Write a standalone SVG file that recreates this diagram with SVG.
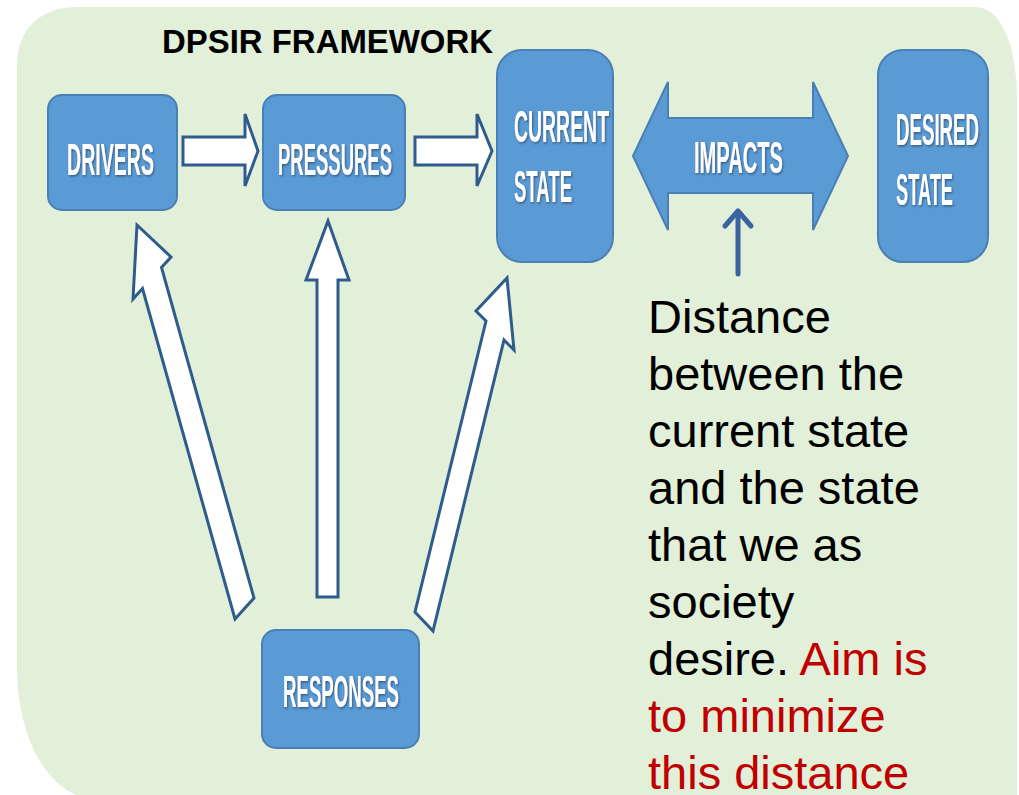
<svg xmlns="http://www.w3.org/2000/svg" width="1019" height="795" viewBox="0 0 1019 795">
<defs>
<style>
.box{fill:#5b9bd5;stroke:#4a7fb5;stroke-width:2}
.lbl{font-family:"Liberation Sans",Arial,sans-serif;font-weight:bold;font-size:44px;fill:#ffffff;filter:url(#sh)}
.warr{fill:#ffffff;stroke:#2e5c8c;stroke-width:3;stroke-linejoin:miter}
.note{font-family:"Liberation Sans",Arial,sans-serif;font-size:47px;fill:#000000}
.red{fill:#c00000}
</style>
<filter id="sh" x="-10%" y="-20%" width="120%" height="140%">
<feDropShadow dx="1" dy="1.5" stdDeviation="0.8" flood-color="#2a4d73" flood-opacity="0.8"/>
</filter>
</defs>
<rect width="1019" height="795" fill="#ffffff"/>
<path d="M77,7 H975 C1003,7 1017,50 1017,100 V800 H100 C50,800 17,740 17,667 V65 C17,30 40,7 77,7 Z" fill="#e2efd9"/>
<text x="162" y="53" font-family="'Liberation Sans',Arial,sans-serif" font-weight="bold" font-size="33" textLength="331" lengthAdjust="spacingAndGlyphs" fill="#000">DPSIR FRAMEWORK</text>

<g id="connectors">
<polygon class="warr" points="183,137 245,137 245,114 258,151 245,186 245,165 183,165"/>
<polygon class="warr" points="415,137 477,137 477,114 492,151 477,186 477,165 415,165"/>
<polygon class="warr" points="137,225 171,257 161.5,267.5 254,598 235,619 142.5,288.5 133,299"/>
<polygon class="warr" points="328,221 349,280 338,280 338,597 317,597 317,280 306,280"/>
<polygon class="warr" points="507,278 514,350 504,340 433,631 415,612 486,321 476,311"/>
<g id="small-arrow" stroke="#3a64a0" stroke-width="5" stroke-linecap="round" stroke-linejoin="round" fill="none">
<line x1="738" y1="274" x2="738" y2="212"/>
<polyline points="725,226 738,211 751,226"/>
</g>
</g>

<g id="drivers">
<rect class="box" x="48" y="95" width="129" height="115" rx="14"/>
<text class="lbl" x="67" y="175" textLength="87" lengthAdjust="spacingAndGlyphs">DRIVERS</text>
</g>
<g id="pressures">
<rect class="box" x="263" y="95" width="142" height="115" rx="14"/>
<text class="lbl" x="278" y="175" textLength="114" lengthAdjust="spacingAndGlyphs">PRESSURES</text>
</g>
<g id="current-state">
<rect class="box" x="497" y="50" width="116" height="212" rx="25"/>
<text class="lbl" x="514" y="142" textLength="95" lengthAdjust="spacingAndGlyphs">CURRENT</text>
<text class="lbl" x="514" y="202" textLength="58" lengthAdjust="spacingAndGlyphs">STATE</text>
</g>
<g id="impacts">
<polygon class="box" points="633,156 668,82 668,118 813,118 813,82 848,156 813,230 813,193 668,193 668,230"/>
<text class="lbl" x="694" y="173" textLength="89" lengthAdjust="spacingAndGlyphs">IMPACTS</text>
</g>
<g id="desired-state">
<rect class="box" x="878" y="50" width="110" height="212" rx="25"/>
<text class="lbl" x="896" y="145" textLength="83" lengthAdjust="spacingAndGlyphs">DESIRED</text>
<text class="lbl" x="896" y="205" textLength="57" lengthAdjust="spacingAndGlyphs">STATE</text>
</g>
<g id="responses">
<rect class="box" x="262" y="630" width="157" height="118" rx="14"/>
<text class="lbl" x="283" y="707" textLength="116" lengthAdjust="spacingAndGlyphs">RESPONSES</text>
</g>

<g id="note">
<text class="note" x="648" y="333">Distance</text>
<text class="note" x="648" y="390">between the</text>
<text class="note" x="648" y="447">current state</text>
<text class="note" x="648" y="504">and the state</text>
<text class="note" x="648" y="561">that we as</text>
<text class="note" x="648" y="618">society</text>
<text class="note" x="648" y="675">desire. <tspan class="red">Aim is</tspan></text>
<text class="note red" x="648" y="732">to minimize</text>
<text class="note red" x="648" y="789">this distance</text>
</g>
</svg>
